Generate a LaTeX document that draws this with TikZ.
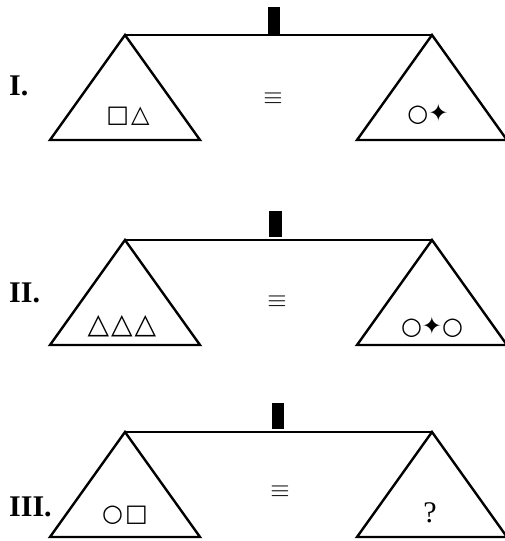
\documentclass[tikz,border=0pt]{standalone}
\usepackage{fontspec}
\setmainfont{Liberation Serif}
\newfontfamily\symfont{DejaVu Sans}
\tikzset{
  pan/.style={line width=2.4pt, line join=miter},
  lbl/.style={anchor=west, font=\bfseries\fontsize{30}{30}\selectfont, inner sep=0pt},
  sym/.style={font=\symfont\fontsize{24}{24}\selectfont, inner sep=0pt},
  eq/.style={font=\fontsize{29}{29}\selectfont, inner sep=0pt},
  qm/.style={font=\fontsize{30}{30}\selectfont, inner sep=0pt}
}
\begin{document}
\begin{tikzpicture}[x=1pt,y=-1pt]
	\useasboundingbox (0,0) rectangle (505,541);
	% scale I
	\begin{scope}
		\fill (268,7) rectangle (280,34);
		\draw[pan] (125,35) -- (432,35);
		\draw[pan] (50,140) -- (125,35) -- (200,140) -- cycle;
		\draw[pan] (357,140) -- (432,35) -- (507,140) -- cycle;
		\node[lbl] (lbl1) at (9,86) {I.};
		\node[eq] (eq1) at (273,99) {$\equiv$};
		\node[sym] (left1) at (128,116) {□\hspace{2pt}△};
		\node[sym] (right1) at (428,114) {○✦};
	\end{scope}
	% scale II
	\begin{scope}[shift={(0,205)}]
		\fill (269,6) rectangle (282,32);
		\draw[pan] (125,35) -- (432,35);
		\draw[pan] (50,140) -- (125,35) -- (200,140) -- cycle;
		\draw[pan] (357,140) -- (432,35) -- (507,140) -- cycle;
		\node[lbl] (lbl2) at (9,88) {II.};
		\node[eq] (eq2) at (277,97) {$\equiv$};
		\node[sym, font=\symfont\fontsize{28}{28}\selectfont] (left2) at (122,121) {△\hspace{2pt}△\hspace{2pt}△};
		\node[sym] (right2) at (432,122) {○✦○};
	\end{scope}
	% scale III
	\begin{scope}[shift={(0,397)}]
		\fill (272,6) rectangle (284,32);
		\draw[pan] (125,35) -- (432,35);
		\draw[pan] (50,140) -- (125,35) -- (200,140) -- cycle;
		\draw[pan] (357,140) -- (432,35) -- (507,140) -- cycle;
		\node[lbl] (lbl3) at (9,110) {III.};
		\node[eq] (eq3) at (280,95) {$\equiv$};
		\node[sym] (left3) at (125,118) {○\hspace{2pt}□};
		\node[qm] (right3) at (430,116) {?};
	\end{scope}
\end{tikzpicture}
\end{document}
